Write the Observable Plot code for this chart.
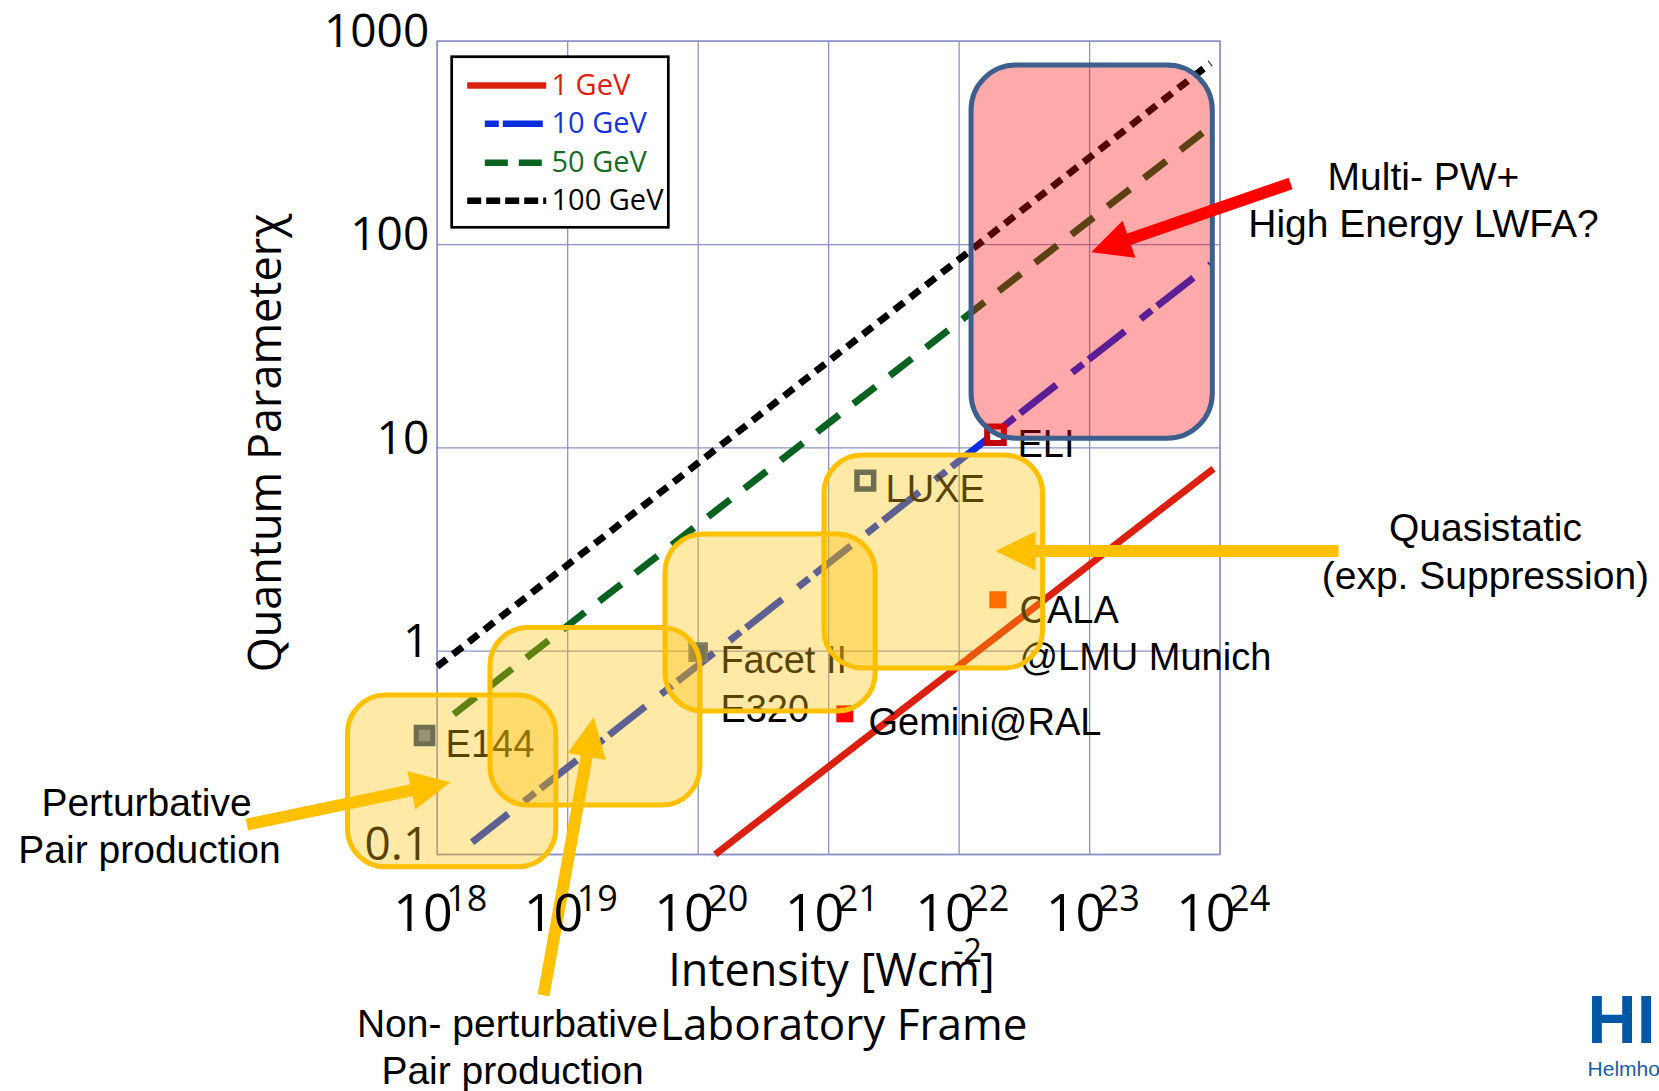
<!DOCTYPE html>
<html><head><meta charset="utf-8">
<script src="https://cdn.jsdelivr.net/npm/d3@7"></script>
<script src="https://cdn.jsdelivr.net/npm/@observablehq/plot@0.6"></script>
<style>html,body{margin:0;padding:0;background:#fff;overflow:hidden}</style>
</head><body><div id="chart"></div>
<script>
// ---------------- DATA ----------------
const xTicks = [1e18, 1e19, 1e20, 1e21, 1e22, 1e23, 1e24];
const xTickExponents = ["18", "19", "20", "21", "22", "23", "24"];
const yTicks = [0.1, 1, 10, 100, 1000];
const yTickLabels = ["0.1", "1", "10", "100", "1000"];

// beam-energy lines chi(I): straight in log-log, read at their two ends
const seriesNames = ["1 GeV", "10 GeV", "50 GeV", "100 GeV"];
const lineStartI = [1.35e20, 1.85e18, 1.34e18, 1.0e18];
const lineStartChi = [0.1, 0.115, 0.49, 0.84];
const lineEndI = [8.9e23, 8.45e23, 7.73e23, 8.45e23];
const lineEndChi = [7.9, 80, 364, 780];

// experiments (markers)
const facilities = ["E144", "Facet II", "LUXE", "ELI", "CALA", "Gemini"];
const facilityI = [8.0e17, 1.0e20, 1.91e21, 1.90e22, 1.98e22, 1.33e21];
const facilityChi = [0.385, 0.99, 6.9, 11.6, 1.79, 0.492];

// marker labels
const labelTexts = ["E144", "Facet II", "E320", "LUXE", "ELI", "CALA", "@LMU Munich", "Gemini@RAL"];
const labelI = [1.16e18, 1.48e20, 1.48e20, 2.73e21, 2.80e22, 2.90e22, 2.90e22, 2.02e21];
const labelChi = [0.3455, 0.892, 0.514, 6.20, 10.4, 1.576, 0.923, 0.442];

// regime boxes
const regionNames = ["Perturbative", "Non-perturbative", "Facet", "LUXE", "Multi-PW"];
const regionI1 = [2.07e17, 2.56e18, 5.62e19, 9.29e20, 1.245e22];
const regionI2 = [8.18e18, 1.04e20, 2.29e21, 4.40e22, 8.79e23];
const regionChi1 = [0.0865, 0.174, 0.505, 0.822, 11.1];
const regionChi2 = [0.605, 1.30, 3.75, 9.17, 759];

// annotations
const annTexts = ["Multi- PW+", "High Energy LWFA?", "Quasistatic", "(exp. Suppression)",
                  "Perturbative", "Pair production", "Non- perturbative", "Pair production"];
const annI = [3.62e25, 3.62e25, 1.08e26, 1.08e26, 5.92e15, 6.24e15, 3.46e18, 3.78e18];
const annChi = [214, 125, 4.02, 2.334, 0.1786, 0.105, 0.01451, 0.00856];

// arrows (tail -> tip)
const arrowNames = ["Multi-PW", "Quasistatic", "Perturbative", "Non-perturbative"];
const arrowTailI = [3.47e24, 8.09e24, 3.48e16, 6.53e18];
const arrowTailChi = [199.5, 3.11, 0.1404, 0.02032];
const arrowTipI = [1.028e23, 1.90e22, 1.265e18, 1.585e19];
const arrowTipChi = [91.6, 3.11, 0.2268, 0.4735];

// logo text
const logoTexts = ["HI", "Helmholtz-Institut Jena"];
const logoI = [6.55e26, 6.55e26];
const logoChi = [0.01517, 0.00876];

// ---------------- STYLES / LAYOUT ----------------
const W = 1659, H = 1091;
const M = {left: 436.7, right: 439.4, top: 40.7, bottom: 237};
const xDomain = [1e18, 1e24], yDomain = [0.1, 1000];
const gridColor = "#8c92c6";
const yellow = "#ffc000";
const lineWidth = 7;
const seriesStyle = {
  "1 GeV":   {stroke: "#dc2010", dash: null,          legendDash: null,        text: "#e0200f", lx: 466.7},
  "10 GeV":  {stroke: "#0a2de0", dash: "46,20,14,7",  legendDash: "14,4,40,4", text: "#1535d8", lx: 484.3},
  "50 GeV":  {stroke: "#0b6220", dash: "28,18",       legendDash: "23,11",     text: "#176b28", lx: 484.3},
  "100 GeV": {stroke: "#000000", dash: "12,8",        legendDash: "14,5",      text: "#000000", lx: 466.7}
};
const markerStyle = {
  "E144":     {fill: "#5c7cae", stroke: "#22427c", r: 9.4, sw: 5},
  "Facet II": {fill: "#2f4f86", stroke: "#3e5c90", r: 9.4, sw: 3},
  "LUXE":     {fill: "none",    stroke: "#22427c", r: 9.4, sw: 5.5},
  "ELI":      {fill: "none",    stroke: "#c00010", r: 9.4, sw: 6},
  "CALA":     {fill: "#ff4000", stroke: "none",    r: 9.6, sw: 0},
  "Gemini":   {fill: "#ff0000", stroke: "none",    r: 9.6, sw: 0}
};
const regionStyle = {
  "Perturbative":     {fill: yellow, opacity: 0.35, stroke: yellow, r: 38},
  "Non-perturbative": {fill: yellow, opacity: 0.35, stroke: yellow, r: 38},
  "Facet":            {fill: yellow, opacity: 0.35, stroke: yellow, r: 38},
  "LUXE":             {fill: yellow, opacity: 0.35, stroke: yellow, r: 38},
  "Multi-PW":         {fill: "#ff0000", opacity: 0.333, stroke: "#3c5f8e", r: 45}
};
const arrowStyle = {
  "Multi-PW": "#ff0000", "Quasistatic": yellow, "Perturbative": yellow, "Non-perturbative": yellow
};
const arrowShaft = 12, arrowHeadLen = 40, arrowHeadWidth = 39;
const legendLayout = {x1: 451.7, x2: 668.3, y1: 56.7, y2: 227.3,
  rowY: [85, 123.3, 162.3, 200.3], lineEnd: 545.7, textX: 551, fontSize: 29};
const sansUI = "Open Sans";
const sansAnn = "Liberation Sans, Arial, sans-serif";

// ---------------- SCALES (for layout helpers) ----------------
const xs = Plot.scale({x: {type: "log", domain: xDomain, range: [M.left, W - M.right]}});
const ys = Plot.scale({y: {type: "log", domain: yDomain, range: [H - M.bottom, M.top]}});

// ---------------- MARKS ----------------
const marks = [];
marks.push(Plot.ruleX(xTicks, {stroke: gridColor, strokeWidth: 1.3}));
marks.push(Plot.ruleY(yTicks, {stroke: gridColor, strokeWidth: 1.3}));
marks.push(Plot.frame({stroke: gridColor, strokeWidth: 1.5}));

// energy lines
seriesNames.forEach((s, i) => {
  const st = seriesStyle[s];
  const pts = [{I: lineStartI[i], chi: lineStartChi[i]}, {I: lineEndI[i], chi: lineEndChi[i]}];
  marks.push(Plot.line(pts, {x: "I", y: "chi", stroke: st.stroke, strokeWidth: lineWidth,
    strokeDasharray: st.dash || undefined, strokeLinecap: "butt"}));
});

// markers
facilities.forEach((f, i) => {
  const st = markerStyle[f];
  marks.push(Plot.dot([{I: facilityI[i], chi: facilityChi[i]}], {x: "I", y: "chi", symbol: "square",
    r: st.r, fill: st.fill, stroke: st.stroke, strokeWidth: st.sw}));
});

// labels
const labels = labelTexts.map((t, i) => ({t, I: labelI[i], chi: labelChi[i]}));
marks.push(Plot.text(labels, {x: "I", y: "chi", text: "t", textAnchor: "start",
  fontFamily: sansAnn, fontSize: 38, fill: "#000"}));

// y tick labels
marks.push(Plot.text(yTicks, {y: d => d, frameAnchor: "left", text: (d, i) => yTickLabels[i],
  textAnchor: "end", dx: -8, dy: -9, fontSize: 46, fontFamily: sansUI, fill: "#000"}));

// regime boxes
regionNames.forEach((r, i) => {
  const st = regionStyle[r];
  marks.push(Plot.rect([{x1: regionI1[i], x2: regionI2[i], y1: regionChi1[i], y2: regionChi2[i]}],
    {x1: "x1", x2: "x2", y1: "y1", y2: "y2", fill: st.fill, fillOpacity: st.opacity,
     stroke: st.stroke, strokeWidth: 5, rx: st.r, ry: st.r}));
});

// arrows
arrowNames.forEach((a, i) => {
  const tx = xs.apply(arrowTailI[i]), ty = ys.apply(arrowTailChi[i]);
  const px = xs.apply(arrowTipI[i]), py = ys.apply(arrowTipChi[i]);
  const L = Math.hypot(px - tx, py - ty);
  const ux = (px - tx) / L, uy = (py - ty) / L;
  const bx = px - arrowHeadLen * ux, by = py - arrowHeadLen * uy;
  const nx = -uy, ny = ux, hw = arrowHeadWidth / 2;
  const inv = (X, Y) => ({I: xs.invert(X), chi: ys.invert(Y)});
  const shaftEnd = inv(bx + 2 * ux, by + 2 * uy);
  marks.push(Plot.link([{x1: arrowTailI[i], y1: arrowTailChi[i], x2: shaftEnd.I, y2: shaftEnd.chi}],
    {x1: "x1", y1: "y1", x2: "x2", y2: "y2", stroke: arrowStyle[a], strokeWidth: arrowShaft, strokeLinecap: "butt"}));
  const head = [{I: arrowTipI[i], chi: arrowTipChi[i]}, inv(bx + hw * nx, by + hw * ny),
                inv(bx - hw * nx, by - hw * ny), {I: arrowTipI[i], chi: arrowTipChi[i]}];
  marks.push(Plot.line(head, {x: "I", y: "chi", fill: arrowStyle[a], stroke: "none"}));
});

// legend (inside the frame)
const LL = legendLayout;
marks.push(Plot.rect([{x1: xs.invert(LL.x1), x2: xs.invert(LL.x2), y1: ys.invert(LL.y2), y2: ys.invert(LL.y1)}],
  {x1: "x1", x2: "x2", y1: "y1", y2: "y2", fill: "white", stroke: "#000", strokeWidth: 2.7}));
seriesNames.forEach((s, i) => {
  const st = seriesStyle[s];
  const yv = ys.invert(LL.rowY[i]);
  marks.push(Plot.line([{I: xs.invert(st.lx), chi: yv}, {I: xs.invert(LL.lineEnd), chi: yv}],
    {x: "I", y: "chi", stroke: st.stroke, strokeWidth: 6.5, strokeDasharray: st.legendDash || undefined,
     strokeLinecap: "butt"}));
  marks.push(Plot.text([s], {x: () => xs.invert(LL.textX), y: () => yv, text: d => d, textAnchor: "start",
    fill: st.text, fontSize: LL.fontSize, fontFamily: sansUI}));
});

// x tick labels 10^n
marks.push(Plot.text(xTicks, {x: d => d, frameAnchor: "bottom", text: () => "10", textAnchor: "end",
  dx: 15.5, dy: 76, fontSize: 52, fontFamily: sansUI, fill: "#000"}));
marks.push(Plot.text(xTicks, {x: d => d, frameAnchor: "bottom", text: (d, i) => xTickExponents[i], textAnchor: "start",
  dx: 9, dy: 56.5, fontSize: 36, fontFamily: sansUI, fill: "#000"}));

// axis titles
marks.push(Plot.text(["Intensity [Wcm]"], {frameAnchor: "bottom", text: d => d, textAnchor: "middle", dx: 2.8, dy: 131.5,
  fontSize: 45, fontFamily: sansUI, fill: "#000"}));
marks.push(Plot.text(["-2"], {frameAnchor: "bottom", text: d => d, textAnchor: "middle", dx: 138.8, dy: 107,
  fontSize: 32, fontFamily: sansUI, fill: "#000"}));
marks.push(Plot.text(["Laboratory Frame"], {frameAnchor: "bottom", text: d => d, textAnchor: "middle", dx: 15, dy: 185,
  fontSize: 44, fontFamily: sansUI, fill: "#000"}));
marks.push(Plot.text(["Quantum Parameterχ"], {frameAnchor: "left", text: d => d, textAnchor: "middle", rotate: -90,
  dx: -171, dy: -5, fontSize: 45, fontFamily: sansUI, fill: "#000"}));

// annotations
const anns = annTexts.map((t, i) => ({t, I: annI[i], chi: annChi[i]}));
marks.push(Plot.text(anns, {x: "I", y: "chi", text: "t", fontFamily: sansAnn, fontSize: 39, fill: "#000"}));

// logo
marks.push(Plot.text([{t: logoTexts[0], I: logoI[0], chi: logoChi[0]}], {x: "I", y: "chi", text: "t",
  textAnchor: "start", fontFamily: sansAnn, fontWeight: "bold", fontSize: 68, fill: "#0057a3"}));
marks.push(Plot.text([{t: logoTexts[1], I: logoI[1], chi: logoChi[1]}], {x: "I", y: "chi", text: "t",
  textAnchor: "start", fontFamily: sansAnn, fontSize: 21, fill: "#1a5ea8"}));

const chart = Plot.plot({
  width: W, height: H,
  marginLeft: M.left, marginRight: M.right, marginTop: M.top, marginBottom: M.bottom,
  x: {type: "log", domain: xDomain, axis: null},
  y: {type: "log", domain: yDomain, axis: null},
  style: {background: "white", fontFamily: sansUI},
  marks
});
document.getElementById("chart").appendChild(chart);
</script>
</body></html>
